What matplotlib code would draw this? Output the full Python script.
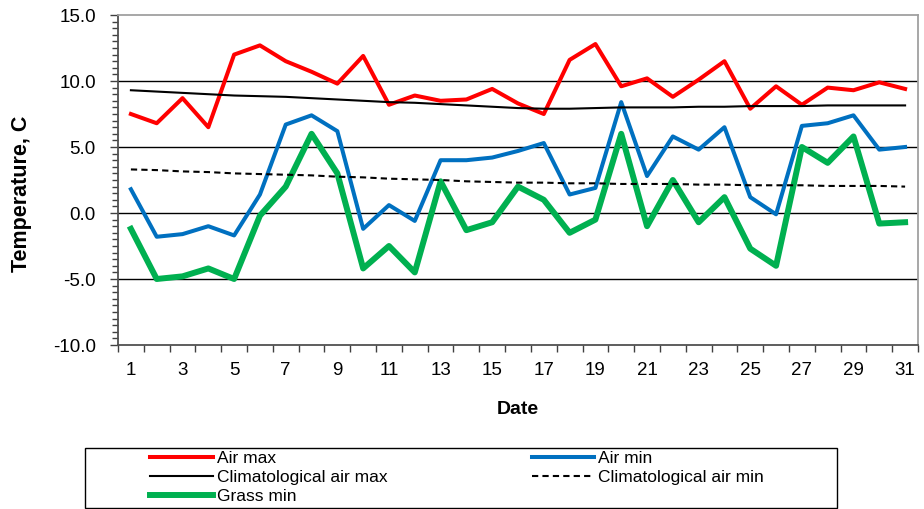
import numpy as np
import matplotlib.pyplot as plt
from matplotlib.patches import Rectangle
from matplotlib.ticker import MultipleLocator, FormatStrFormatter, FixedLocator

plt.rcParams['font.family'] = ['Liberation Sans', 'DejaVu Sans']
plt.rcParams['axes.unicode_minus'] = False

# 数据
days = list(range(1, 32))
air_max = [7.5, 6.8, 8.7, 6.5, 12.0, 12.7, 11.5, 10.7, 9.8, 11.9, 8.2, 8.9, 8.5, 8.6, 9.4,
           8.3, 7.5, 11.6, 12.8, 9.6, 10.2, 8.8, 10.1, 11.5, 7.9, 9.6, 8.2, 9.5, 9.3, 9.9, 9.4]
air_min = [1.8, -1.8, -1.6, -1.0, -1.7, 1.4, 6.7, 7.4, 6.2, -1.2, 0.6, -0.6, 4.0, 4.0, 4.2,
           4.7, 5.3, 1.4, 1.9, 8.4, 2.8, 5.8, 4.8, 6.5, 1.2, -0.1, 6.6, 6.8, 7.4, 4.8, 5.0]
grass_min = [-1.2, -5.0, -4.8, -4.2, -5.0, -0.2, 2.0, 6.0, 3.0, -4.2, -2.5, -4.5, 2.4, -1.3, -0.7,
             2.0, 1.0, -1.5, -0.5, 6.0, -1.0, 2.5, -0.7, 1.2, -2.7, -4.0, 5.0, 3.8, 5.8, -0.8, -0.7]
clim_max = [9.3, 9.2, 9.1, 9.0, 8.9, 8.85, 8.8, 8.7, 8.6, 8.5, 8.4, 8.35, 8.25, 8.15, 8.05,
            7.95, 7.9, 7.9, 7.95, 8.0, 8.0, 8.0, 8.05, 8.05, 8.1, 8.1, 8.1, 8.15, 8.15, 8.15, 8.15]
clim_min = [3.3, 3.25, 3.15, 3.1, 3.0, 2.95, 2.9, 2.85, 2.75, 2.7, 2.6, 2.55, 2.5, 2.4, 2.35,
            2.3, 2.3, 2.25, 2.25, 2.2, 2.2, 2.2, 2.15, 2.15, 2.1, 2.1, 2.1, 2.05, 2.05, 2.05, 2.0]

W, H = 924, 509
fig = plt.figure(figsize=(W / 100, H / 100), dpi=100)
ax = fig.add_axes([118 / W, 1 - 345 / H, 800 / W, 330 / H])

# 网格线
for yv in [-5, 0, 5, 10]:
    ax.axhline(yv, color='black', lw=1.0, zorder=1)

l_max, = ax.plot(days, air_max, color='#FF0000', lw=2.9, label='Air max', zorder=3)
l_min, = ax.plot(days, air_min, color='#0070C0', lw=2.9, label='Air min', zorder=3)
l_cmax, = ax.plot(days, clim_max, color='black', lw=1.5, label='Climatological air max', zorder=4)
l_cmin, = ax.plot(days, clim_min, color='black', lw=1.5, ls=(0, (3, 2)), label='Climatological air min', zorder=4)
l_grass, = ax.plot(days, grass_min, color='#00B050', lw=4.3, label='Grass min', zorder=3)

ax.set_xlim(0.5, 31.5)
ax.set_ylim(-10, 15)

# x轴：刻度在类别之间，标签每隔一天
ax.xaxis.set_major_locator(FixedLocator(np.arange(0.5, 32, 1)))
ax.set_xticklabels([])
ax.xaxis.set_minor_locator(FixedLocator(days[::2]))
ax.set_xticklabels([str(d) for d in days[::2]], minor=True)
ax.tick_params(axis='x', which='major', length=5, width=1, color='#404040', direction='out')
ax.tick_params(axis='x', which='minor', length=0, labelsize=13.5, pad=12)

ax.yaxis.set_major_locator(MultipleLocator(5))
ax.yaxis.set_minor_locator(MultipleLocator(0.5))
ax.yaxis.set_major_formatter(FormatStrFormatter('%.1f'))
ax.tick_params(axis='y', which='major', length=6, width=1, color='#404040', labelsize=13.5, pad=10)
ax.tick_params(axis='y', which='minor', length=4, width=1, color='#404040')

for side in ['left', 'bottom']:
    ax.spines[side].set_color('#505050')
    ax.spines[side].set_linewidth(1.3)
for side in ['top', 'right']:
    ax.spines[side].set_color('#A0A0A0')
    ax.spines[side].set_linewidth(1.3)

ax.set_ylabel('Temperature, C', fontsize=15.5, fontweight='bold')
ax.yaxis.set_label_coords(-0.108, 0.4576)
ax.set_xlabel('Date', fontsize=14, fontweight='bold', labelpad=16)

# 图例（外框单独画）
fig.patches.append(Rectangle((85 / W, 1 - 508 / H), (837 - 85) / W, 60 / H,
                             transform=fig.transFigure, fill=False,
                             edgecolor='black', lw=1.0))
leg = fig.legend(handles=[l_max, l_cmax, l_grass, l_min, l_cmin],
                 ncol=2, loc='upper left', bbox_to_anchor=(150 / W, 1 - 451 / H),
                 fontsize=12.5, frameon=False,
                 handlelength=3.6, handletextpad=0.25, borderpad=0.0,
                 labelspacing=0.22, columnspacing=8.3, borderaxespad=0)

fig.savefig('out.png', dpi=100)
